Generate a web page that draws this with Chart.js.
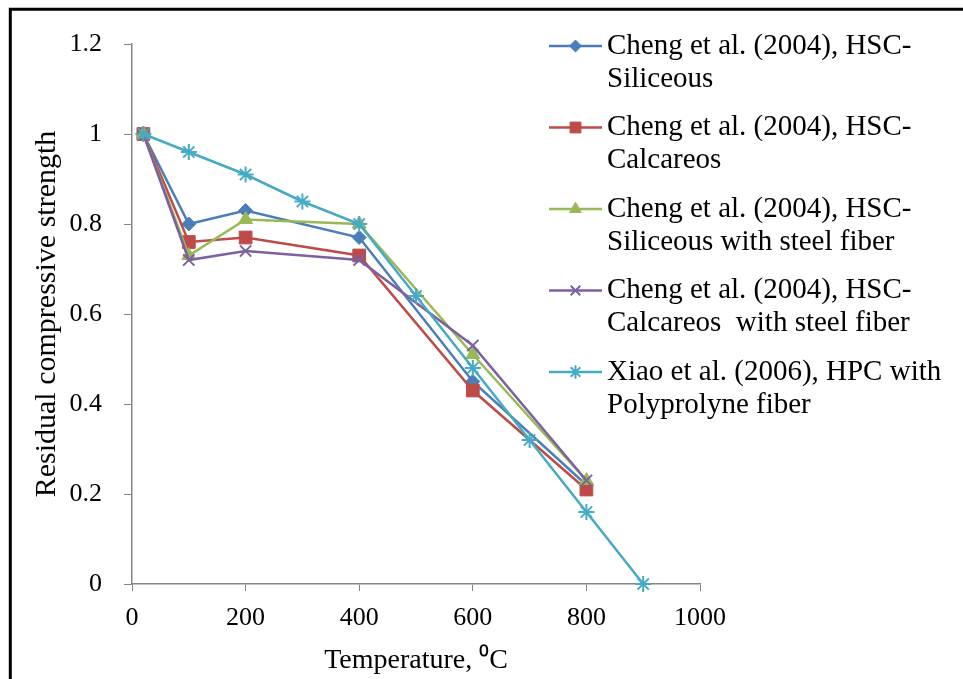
<!DOCTYPE html>
<html>
<head>
<meta charset="utf-8">
<script src="https://cdn.jsdelivr.net/npm/chart.js@4/dist/chart.umd.min.js"></script>
<style>
  html, body { margin: 0; padding: 0; background: #ffffff; }
  #wrap { width: 963px; height: 679px; position: relative; }
</style>
</head>
<body>
<div id="wrap"><canvas id="c" width="963" height="679"></canvas></div>
<script>
// ---- data ----
const tempsCheng = [20, 100, 200, 400, 600, 800];
const chengSiliceous = [1.0, 0.80, 0.83, 0.77, 0.45, 0.22];
const chengCalcareos = [1.0, 0.76, 0.77, 0.73, 0.43, 0.21];
const chengSiliceousFiber = [1.0, 0.73, 0.81, 0.80, 0.51, 0.23];
const chengCalcareosFiber = [1.0, 0.72, 0.74, 0.72, 0.53, 0.23];
const tempsXiao = [20, 100, 200, 300, 400, 500, 600, 700, 800, 900];
const xiaoHPC = [1.0, 0.96, 0.91, 0.85, 0.80, 0.64, 0.48, 0.32, 0.16, 0];

const seriesLabels = [
  ['Cheng et al. (2004), HSC-', 'Siliceous'],
  ['Cheng et al. (2004), HSC-', 'Calcareos'],
  ['Cheng et al. (2004), HSC-', 'Siliceous with steel fiber'],
  ['Cheng et al. (2004), HSC-', 'Calcareos  with steel fiber'],
  ['Xiao et al. (2006), HPC with', 'Polyprolyne fiber']
];
const xTickLabels = ['0', '200', '400', '600', '800', '1000'];
const yTickLabels = ['0', '0.2', '0.4', '0.6', '0.8', '1', '1.2'];
const xTitle = 'Temperature, \u2070C';
const yTitle = 'Residual compressive strength';

// ---- styling ----
const FONT = "'Liberation Serif', 'Times New Roman', serif";
const colors = ['#4A7EBB', '#BE4B48', '#98B954', '#7D60A0', '#46AAC5'];
const styles = ['rectRot', 'rect', 'triangle', 'crossRot', 'star'];
const radii = [7, 9, 8, 8, 8];

function pts(xs, ys) { return xs.map((x, i) => ({ x: x, y: ys[i] })); }
const seriesData = [
  pts(tempsCheng, chengSiliceous),
  pts(tempsCheng, chengCalcareos),
  pts(tempsCheng, chengSiliceousFiber),
  pts(tempsCheng, chengCalcareosFiber),
  pts(tempsXiao, xiaoHPC)
];

const datasets = seriesData.map((d, i) => ({
  label: seriesLabels[i].join(' '),
  data: d,
  borderColor: colors[i],
  backgroundColor: colors[i],
  pointBackgroundColor: colors[i],
  pointBorderColor: colors[i],
  pointStyle: styles[i],
  pointRadius: radii[i],
  pointBorderWidth: (styles[i] === 'crossRot' || styles[i] === 'star') ? 2 : 1,
  borderWidth: 2.5,
  tension: 0,
  fill: false,
  clip: false,
  order: 5 - i
}));

const framePlugin = {
  id: 'frame',
  afterDraw(chart) {
    const ctx = chart.ctx;
    ctx.save();
    ctx.strokeStyle = '#000';
    ctx.lineWidth = 3;
    ctx.beginPath();
    ctx.moveTo(10.3, 679);
    ctx.lineTo(10.3, 9.3);
    ctx.lineTo(963, 9.3);
    ctx.stroke();
    ctx.restore();
  }
};

const legendPlugin = {
  id: 'customLegend',
  afterDraw(chart) {
    const ctx = chart.ctx;
    const x0 = 549, x1 = 602, tx = 607;
    const yStart = 46, step = 81.5, lineGap = 33;
    ctx.save();
    chart.data.datasets.forEach((ds, i) => {
      const y = yStart + i * step;
      ctx.strokeStyle = ds.borderColor;
      ctx.lineWidth = 2.5;
      ctx.beginPath();
      ctx.moveTo(x0, y);
      ctx.lineTo(x1, y);
      ctx.stroke();
      ctx.fillStyle = ds.pointBackgroundColor;
      ctx.strokeStyle = ds.pointBorderColor;
      ctx.lineWidth = ds.pointBorderWidth;
      Chart.helpers.drawPoint(ctx, { pointStyle: ds.pointStyle, radius: ds.pointRadius * 0.85, borderWidth: ds.pointBorderWidth, rotation: 0 }, (x0 + x1) / 2, y);
      ctx.fillStyle = '#000';
      ctx.font = '29px ' + FONT;
      ctx.textBaseline = 'middle';
      ctx.textAlign = 'left';
      seriesLabels[i].forEach((t, k) => ctx.fillText(t, tx, y + k * lineGap));
    });
    ctx.restore();
  }
};

Chart.defaults.font.family = FONT;
Chart.defaults.color = '#000';

new Chart(document.getElementById('c'), {
  type: 'line',
  data: { datasets: datasets },
  options: {
    responsive: false,
    devicePixelRatio: 1,
    animation: false,
    layout: { padding: { left: 0, top: 44, right: 263, bottom: 0 } },
    plugins: {
      legend: { display: false },
      tooltip: { enabled: false }
    },
    scales: {
      x: {
        type: 'linear',
        min: 0, max: 1000,
        afterFit(scale) { scale.height = 95; },
        ticks: {
          stepSize: 200,
          font: { size: 26 },
          color: '#000',
          padding: 12,
          maxRotation: 0,
          callback: (v, idx) => xTickLabels[idx]
        },
        grid: { display: true, drawOnChartArea: false, drawTicks: true, tickLength: 7, color: '#868686', lineWidth: 1 },
        border: { display: true, color: '#868686', width: 1.5 },
        title: { display: true, text: xTitle, font: { size: 28 }, color: '#000', padding: { top: 0, bottom: 2 } }
      },
      y: {
        type: 'linear',
        min: 0, max: 1.2,
        afterFit(scale) { scale.width = 132; },
        ticks: {
          stepSize: 0.2,
          font: { size: 26 },
          color: '#000',
          padding: 22,
          callback: (v, idx) => yTickLabels[idx]
        },
        grid: { display: true, drawOnChartArea: false, drawTicks: true, tickLength: 8, color: '#868686', lineWidth: 1 },
        border: { display: true, color: '#868686', width: 1.5 },
        title: { display: true, text: yTitle, font: { size: 30 }, color: '#000', padding: { top: 29, bottom: 0 } }
      }
    }
  },
  plugins: [framePlugin, legendPlugin]
});
</script>
</body>
</html>
